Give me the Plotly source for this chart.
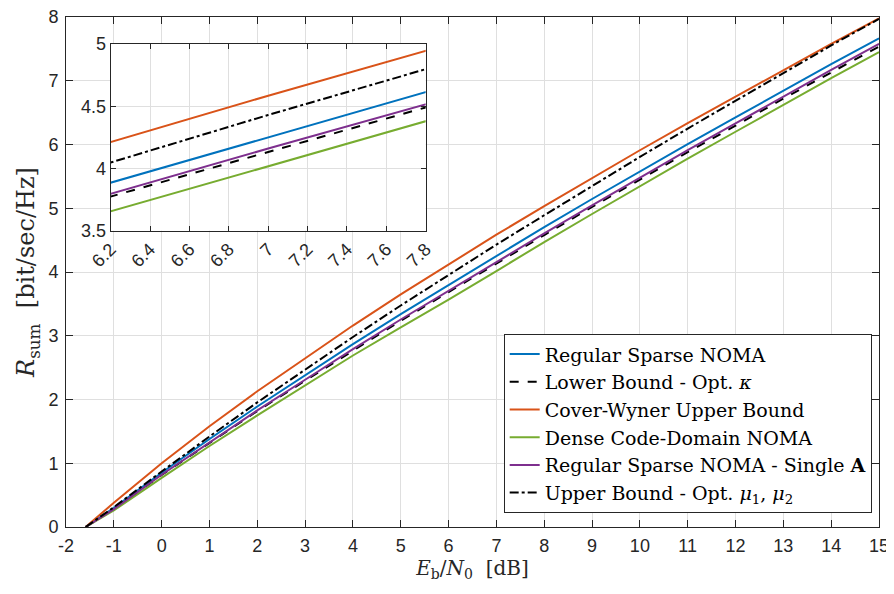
import plotly.graph_objects as go

# ---- data ----
ebn0_db = [-1.59, -1, 0, 1, 2, 3, 4, 5, 6, 7, 8, 9, 10, 11, 12, 13, 14, 15]

regular_sparse = [0, 0.30, 0.85, 1.38, 1.89, 2.38, 2.87, 3.34, 3.795, 4.255, 4.705, 5.145, 5.58, 6.005, 6.425, 6.845, 7.26, 7.665]
lower_bound_kappa = [0, 0.28, 0.815, 1.32, 1.82, 2.295, 2.77, 3.235, 3.685, 4.135, 4.58, 5.02, 5.455, 5.88, 6.295, 6.72, 7.13, 7.535]
cover_wyner = [0, 0.38, 1.00, 1.58, 2.13, 2.65, 3.16, 3.65, 4.12, 4.585, 5.035, 5.475, 5.91, 6.335, 6.75, 7.17, 7.58, 7.98]
dense_cd = [0, 0.26, 0.77, 1.27, 1.75, 2.22, 2.69, 3.13, 3.565, 4.015, 4.47, 4.91, 5.35, 5.78, 6.2, 6.625, 7.04, 7.45]
single_A = [0, 0.28, 0.82, 1.33, 1.83, 2.31, 2.79, 3.255, 3.705, 4.16, 4.605, 5.045, 5.48, 5.91, 6.33, 6.755, 7.17, 7.58]
upper_bound_mu = [0, 0.31, 0.87, 1.42, 1.955, 2.47, 2.98, 3.475, 3.955, 4.43, 4.89, 5.35, 5.805, 6.25, 6.685, 7.125, 7.555, 7.97]

x_ticks_main = list(range(-2, 16))
x_ticklabels_main = [str(v) for v in x_ticks_main]  # hyphen minus like the reference
y_ticks_main = list(range(0, 9))
x_ticks_inset = [6.2, 6.4, 6.6, 6.8, 7.0, 7.2, 7.4, 7.6, 7.8]
x_ticklabels_inset = ["6.2", "6.4", "6.6", "6.8", "7", "7.2", "7.4", "7.6", "7.8"]
y_ticks_inset = [3.5, 4, 4.5, 5]
y_ticklabels_inset = ["3.5", "4", "4.5", "5"]

series = [
    ("Regular Sparse NOMA", regular_sparse, "#0072BD", "solid"),
    ("Lower Bound - Opt. <i>κ</i>", lower_bound_kappa, "#000000", "dash"),
    ("Cover-Wyner Upper Bound", cover_wyner, "#D95319", "solid"),
    ("Dense Code-Domain NOMA", dense_cd, "#77AC30", "solid"),
    ("Regular Sparse NOMA - Single <b>A</b>", single_A, "#7E2F8E", "solid"),
    ("Upper Bound - Opt. <i>μ</i><sub>1</sub>, <i>μ</i><sub>2</sub>", upper_bound_mu, "#000000", "dashdot"),
]

fig = go.Figure()
for name, ys, color, dash in series:
    fig.add_trace(go.Scatter(x=ebn0_db, y=ys, mode="lines", name=name,
                             line=dict(color=color, width=2, dash=dash),
                             xaxis="x", yaxis="y"))
for name, ys, color, dash in series:
    fig.add_trace(go.Scatter(x=ebn0_db, y=ys, mode="lines", name=name, showlegend=False,
                             line=dict(color=color, width=2, dash=dash),
                             xaxis="x2", yaxis="y2"))

axcol = "#262626"
gridcol = "#DFDFDF"
sans = "Liberation Sans, Arial, sans-serif"
tickfont = dict(family=sans, size=18, color=axcol)
serif = "DejaVu Serif, serif"

common = dict(ticks="inside", showline=True, mirror="ticks", linecolor=axcol, linewidth=1,
              tickcolor=axcol, showgrid=True, gridcolor=gridcol, gridwidth=1,
              zeroline=False, automargin=False, ticklabeloverflow="allow")

# the page body adds an 8 px offset, so the figure is 8 px smaller than the window
fig.update_layout(
    template="none",
    width=886, height=586,
    margin=dict(l=58, r=15, t=9, b=67),
    paper_bgcolor="white", plot_bgcolor="white",
    showlegend=True,
    legend=dict(x=0.991, xanchor="right", y=0.027, yanchor="bottom",
                bgcolor="white", bordercolor=axcol, borderwidth=1,
                font=dict(family=serif, size=19, color="#000000"),
                itemwidth=30, tracegroupgap=0),
    xaxis=dict(range=[-2, 15], tickvals=x_ticks_main, ticktext=x_ticklabels_main,
               ticklen=7, tickfont=tickfont, ticklabelstandoff=2, **common,
               title=dict(text="<i>E</i><sub>b</sub>/<i>N</i><sub>0</sub>  [dB]",
                          font=dict(family=serif, size=20, color=axcol), standoff=6)),
    yaxis=dict(range=[0, 8], tickvals=y_ticks_main, ticklen=7, tickfont=tickfont,
               ticklabelstandoff=3, **common,
               title=dict(text="<i>R</i><sub>sum</sub>  [bit/sec/Hz]",
                          font=dict(family=serif, size=24, color=axcol), standoff=6)),
    xaxis2=dict(domain=[0.055, 0.4424], anchor="y2", range=[6.2, 7.8],
                tickvals=x_ticks_inset, ticktext=x_ticklabels_inset, tickangle=-45,
                ticklen=5, tickfont=tickfont, **common),
    yaxis2=dict(domain=[0.581, 0.947], anchor="x2", range=[3.5, 5],
                tickvals=y_ticks_inset, ticktext=y_ticklabels_inset,
                ticklen=5, tickfont=tickfont, **common),
)

fig.write_html("out.html")
